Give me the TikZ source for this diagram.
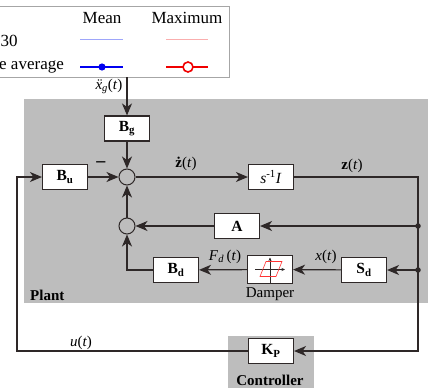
\documentclass[tikz,border=0pt]{standalone}
\usepackage{fontspec}
\setmainfont{Liberation Serif}
\usetikzlibrary{arrows.meta}
\definecolor{ln}{HTML}{2E2828}
\definecolor{plantgray}{HTML}{BDBDBD}
\definecolor{lblue}{HTML}{9EA6FA}
\definecolor{lred}{HTML}{FAAEAE}
\definecolor{mblue}{HTML}{0000F0}
\definecolor{mred}{HTML}{F00000}
\begin{document}
\begin{tikzpicture}[x=1pt,y=-1pt,
 blk/.style={draw=ln,line width=1.1pt,fill=white,minimum width=45pt,minimum height=25pt,inner sep=0pt,font=\fontsize{15.5}{18}\selectfont},
 sumc/.style={circle,draw=ln,line width=1pt,minimum size=16pt,inner sep=0pt},
 conn/.style={draw=ln,line width=1.2pt},
 arr/.style={conn,-{Stealth[length=12pt,width=10pt,inset=3.5pt]}},
 lbl/.style={font=\fontsize{15}{18}\selectfont,inner sep=0pt},
 lgd/.style={font=\fontsize{17}{20}\selectfont,inner sep=0pt},
 dotn/.style={circle,fill=ln,inner sep=0pt,minimum size=5.5pt}]
\useasboundingbox (0,0) rectangle (432,388);
\begin{scope}
\clip (0,0) rectangle (432,388);
% backgrounds
\fill[plantgray] (24,99) rectangle (428,303);
\fill[plantgray] (228,336) rectangle (314,392);
% legend
\draw[gray!70,fill=white,line width=0.8pt] (-5,6) rectangle (229,77);
\node[lgd] (lmean) at (102,18) {Mean};
\node[lgd] (lmax) at (187,18) {Maximum};
\node[lgd,anchor=west] (l30) at (0.5,41) {30};
\node[lgd,anchor=west] (lavg) at (-1,67) {e average};
\draw[lblue,line width=0.8pt] (80,39) -- (123,39);
\draw[lred,line width=0.8pt] (166,39) -- (208,39);
\draw[mblue,line width=1.6pt] (80,67) -- (123,67);
\fill[mblue] (102,67) circle (3.6);
\draw[mred,line width=1.6pt] (166,67) -- (208,67);
\draw[mred,line width=1.6pt,fill=white] (188,67) circle (5);
% blocks
\node[blk] (Bg) at (127,128.5) {\textbf{B}\textsubscript{\textbf{g}}};
\node[sumc] (s1) at (127,177) {};
\node[blk] (Bu) at (65,177) {\textbf{B}\textsubscript{\textbf{u}}};
\node[blk] (sI) at (271,177) {\textit{s}\textsuperscript{-1}\textit{I}};
\node[blk] (A) at (237,226) {\textbf{A}};
\node[sumc] (s2) at (127,226) {};
\node[blk] (Bd) at (176,270) {\textbf{B}\textsubscript{\textbf{d}}};
\node[blk,minimum height=28pt] (D) at (270,269.5) {};
\node[blk] (Sd) at (364,270) {\textbf{S}\textsubscript{\textbf{d}}};
\node[blk] (Kp) at (271,351) {\textbf{K}\textsubscript{\textbf{P}}};
% damper symbol
\draw[ln,line width=0.5pt,-{Stealth[length=3.5pt,width=3pt]}] ([xshift=-15pt]D.center) -- ([xshift=15pt]D.center);
\draw[ln,line width=0.5pt,-{Stealth[length=3.5pt,width=3pt]}] ([yshift=-13pt]D.center) -- ([yshift=12pt]D.center);
\draw[red!80,line width=0.6pt] ([shift={(-10pt,-7pt)}]D.center) -- ([shift={(6pt,-7pt)}]D.center) -- ([shift={(12pt,8pt)}]D.center) -- ([shift={(-4pt,8pt)}]D.center) -- cycle;
% coordinates
\coordinate (xin) at (127,77);
\coordinate (zr) at (418,177);
\coordinate (dA) at (418,226);
\coordinate (dS) at (418,270);
\coordinate (br) at (418,351);
\coordinate (bl) at (17,351);
\coordinate (tl) at (17,177);
% connectors
\draw[arr] (xin) -- (Bg);
\draw[arr] (Bg) -- (s1);
\draw[arr] (Bu) -- (s1);
\draw[arr] (s1) -- (sI);
\draw[arr] (sI.east) -- (zr) -- (br) -- (Kp.east);
\draw[arr] (Kp.west) -- (bl) -- (tl) -- (Bu.west);
\draw[arr] (dA) -- (A);
\draw[arr] (A) -- (s2);
\draw[arr] (s2) -- (s1);
\draw[arr] (dS) -- (Sd);
\draw[arr] (Sd) -- (D);
\draw[arr] (D) -- (Bd);
\draw[arr] (Bd.west) -| (s2.south);
\node[dotn] (pA) at (dA) {};
\node[dotn] (pS) at (dS) {};
% labels
\node[lbl,font=\fontsize{18}{20}\selectfont] (minus) at (101,164) {\textbf{–}};
\node[lbl] (zdot) at (186,164) {\textbf{ż}(\textit{t})};
\node[lbl] (zt) at (352,166) {\textbf{z}(\textit{t})};
\node[lbl] (Fd) at (225,257) {\textit{F}\textsubscript{\textit{d}}\,(\textit{t})};
\node[lbl] (xt) at (326,257) {\textit{x}(\textit{t})};
\node[lbl] (ut) at (81,343) {\textit{u}(\textit{t})};
\node[lbl] (xg) at (109,86) {\textit{\accent"A8 x}\textsubscript{\textit{g}}(\textit{t})};
\node[lbl] (damp) at (270,294) {Damper};
\node[lbl,anchor=west] (plant) at (30,295) {\textbf{Plant}};
\node[lbl] (ctrl) at (270,380) {\textbf{Controller}};
\end{scope}
\end{tikzpicture}
\end{document}
